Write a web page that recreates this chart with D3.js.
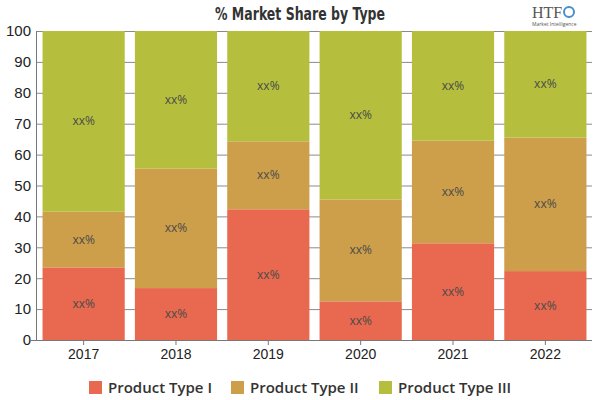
<!DOCTYPE html>
<html>
<head>
<meta charset="utf-8">
<script src="https://cdn.jsdelivr.net/npm/d3@7"></script>
<style>
  body { margin: 0; background: #fff; }
  svg { display: block; font-family: "Open Sans", sans-serif; }
</style>
</head>
<body>
<div id="chart"></div>
<script>
var years = [ "2017", "2018", "2019", "2020", "2021", "2022" ];
var seriesNames = [ "Product Type I", "Product Type II", "Product Type III" ];
var typeI = [ 23.5, 16.8, 42.3, 12.5, 31.3, 22.3 ];
var typeII = [ 18.0, 38.7, 22.0, 33.0, 33.2, 43.2 ];
var typeIII = [ 58.5, 44.5, 35.7, 54.5, 35.5, 34.5 ];
var yTicks = [ 0, 10, 20, 30, 40, 50, 60, 70, 80, 90, 100 ];
var barLabel = "xx%";

var colors = [ "#e8694f", "#cd9f4a", "#b5bf3d" ];

var width = 600;
var height = 400;
var margin = { top: 31, right: 8, bottom: 60, left: 37 };

var svg = d3.select( "#chart" ).append( "svg" )
    .attr( "width", width )
    .attr( "height", height );

// build rows for stacking
var rows = years.map( function ( y, i ) {
  return { year: y, a: typeI[ i ], b: typeII[ i ], c: typeIII[ i ] };
} );
var stack = d3.stack().keys( [ "a", "b", "c" ] )( rows );

var x = d3.scaleBand()
    .domain( years )
    .range( [ margin.left, width - margin.right ] )
    .paddingInner( 0.11 )
    .paddingOuter( 0.06 );

var y = d3.scaleLinear()
    .domain( [ 0, 100 ] )
    .range( [ height - margin.bottom, margin.top ] );

// grid lines behind bars
svg.append( "g" )
  .selectAll( "line" )
  .data( yTicks )
  .enter().append( "line" )
  .attr( "x1", margin.left )
  .attr( "x2", width - margin.right )
  .attr( "y1", function ( d ) { return y( d ) + 0.5; } )
  .attr( "y2", function ( d ) { return y( d ) + 0.5; } )
  .attr( "stroke", "#8a8a8a" )
  .attr( "stroke-width", 1 );

var layers = svg.append( "g" )
  .selectAll( "g" )
  .data( stack )
  .enter().append( "g" )
  .attr( "fill", function ( d, i ) { return colors[ i ]; } );

layers.selectAll( "rect" )
  .data( function ( d ) { return d; } )
  .enter().append( "rect" )
  .attr( "x", function ( d ) { return x( d.data.year ); } )
  .attr( "width", x.bandwidth() )
  .attr( "y", function ( d ) { return y( d[ 1 ] ); } )
  .attr( "height", function ( d ) { return y( d[ 0 ] ) - y( d[ 1 ] ); } );

layers.selectAll( "text" )
  .data( function ( d ) { return d; } )
  .enter().append( "text" )
  .attr( "x", function ( d ) { return x( d.data.year ) + x.bandwidth() / 2; } )
  .attr( "y", function ( d ) { return y( ( d[ 0 ] + d[ 1 ] ) / 2 ) + 4; } )
  .attr( "text-anchor", "middle" )
  .attr( "fill", "#4a4a4a" )
  .style( "font-size", "12px" )
  .text( barLabel );

// axes
var yAxis = d3.axisLeft( y ).tickValues( yTicks ).tickSize( 6 ).tickPadding( 4 );
var gy = svg.append( "g" )
  .attr( "transform", "translate(" + margin.left + ",0)" )
  .call( yAxis );
gy.select( ".domain" ).attr( "stroke", "#777" ).attr( "d", "M-0.5," + y( 100 ) + "V" + y( 0 ) );
gy.selectAll( ".tick line" ).remove();
gy.selectAll( "text" ).attr( "fill", "#222" ).style( "font-size", "15px" ).attr( "x", -6 );

var xAxis = d3.axisBottom( x ).tickSize( 5 ).tickPadding( 4 );
var gx = svg.append( "g" )
  .attr( "transform", "translate(0," + y( 0 ) + ")" )
  .call( xAxis );
gx.select( ".domain" ).attr( "stroke", "#777" ).attr( "d", "M" + ( margin.left - 6 ) + ",0.5H" + ( width - margin.right ) );
gx.selectAll( ".tick line" ).attr( "stroke", "#777" );
gx.selectAll( "text" ).attr( "fill", "#222" ).style( "font-size", "14px" );

// title
svg.append( "text" )
  .attr( "x", 300 )
  .attr( "y", 20 )
  .attr( "text-anchor", "middle" )
  .attr( "fill", "#333" )
  .attr( "textLength", 170 )
  .attr( "lengthAdjust", "spacingAndGlyphs" )
  .style( "font-family", "'DejaVu Sans', sans-serif" )
  .style( "font-weight", "bold" )
  .style( "font-size", "17px" )
  .text( "% Market Share by Type" );

// logo
var logo = svg.append( "g" ).attr( "transform", "translate(532,0)" );
logo.append( "text" )
  .attr( "x", 0 ).attr( "y", 18 )
  .attr( "fill", "#555" )
  .style( "font-family", "'Liberation Serif', serif" )
  .style( "font-size", "16px" )
  .text( "HTF" );
logo.append( "circle" )
  .attr( "cx", 37 ).attr( "cy", 12 ).attr( "r", 5 )
  .attr( "fill", "none" ).attr( "stroke", "#4a8fc8" ).attr( "stroke-width", 2 );
logo.append( "text" )
  .attr( "x", 0 ).attr( "y", 26 )
  .attr( "fill", "#555" )
  .style( "font-size", "5px" )
  .text( "Market Intelligence" );

// legend
var legendX = [ 89, 231, 379 ];
var legend = svg.append( "g" )
  .selectAll( "g" )
  .data( seriesNames )
  .enter().append( "g" )
  .attr( "transform", function ( d, i ) { return "translate(" + legendX[ i ] + ",381)"; } );
legend.append( "rect" )
  .attr( "width", 13 ).attr( "height", 13 )
  .attr( "fill", function ( d, i ) { return colors[ i ]; } );
legend.append( "text" )
  .attr( "x", 19 ).attr( "y", 12 )
  .attr( "fill", "#333" )
  .style( "font-size", "15px" )
  .style( "font-weight", "600" )
  .text( function ( d ) { return d; } );
</script>
</body>
</html>
